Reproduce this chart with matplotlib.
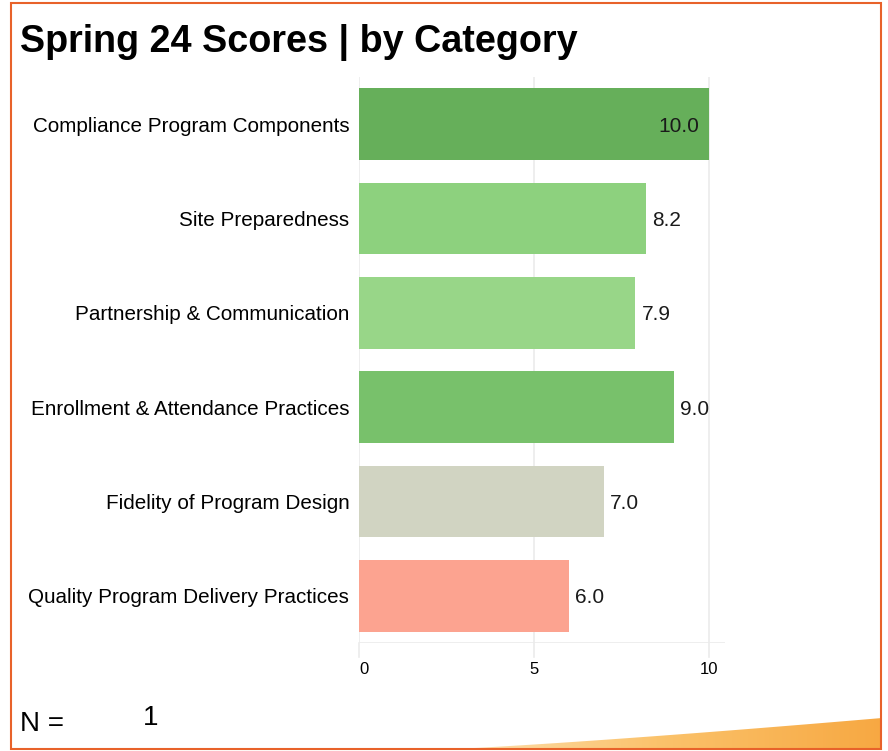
import numpy as np
import matplotlib.pyplot as plt
from matplotlib.patches import Rectangle, Polygon
from matplotlib.colors import LinearSegmentedColormap

plt.rcParams["font.family"] = ["Liberation Sans", "DejaVu Sans"]

# Data
categories = [
    "Compliance Program Components",
    "Site Preparedness",
    "Partnership & Communication",
    "Enrollment & Attendance Practices",
    "Fidelity of Program Design",
    "Quality Program Delivery Practices",
]
scores = [10.0, 8.2, 7.9, 9.0, 7.0, 6.0]
bar_colors = ["#66AF5A", "#8DD17E", "#98D688", "#78C16B", "#D1D4C2", "#FCA390"]
x_ticks = [0, 5, 10]
n_value = 1

W, H = 888, 751
fig = plt.figure(figsize=(W / 100, H / 100), dpi=100)

# Orange swoosh at the bottom right
sw_x = np.linspace(430, 882, 60)
sw_top = 750 - 32 * ((sw_x - 430) / 452) ** 1.2
verts = list(zip(sw_x / W, 1 - sw_top / H)) + [(882 / W, 1 - 750 / H), (430 / W, 1 - 750 / H)]
bg = fig.add_axes([0, 0, 1, 1], zorder=0)
bg.set_xlim(0, 1)
bg.set_ylim(0, 1)
bg.axis("off")
poly = Polygon(verts, closed=True, facecolor="none", edgecolor="none", transform=bg.transAxes)
bg.add_patch(poly)
grad = np.linspace(0, 1, 256).reshape(1, -1)
cmap = LinearSegmentedColormap.from_list("sw", ["#FDE3B8", "#FBC36C", "#F7A842"])
im = bg.imshow(grad, extent=[430 / W, 882 / W, 0, 1 - 716 / H], aspect="auto",
               cmap=cmap, transform=bg.transAxes, zorder=1)
im.set_clip_path(poly)

# Border
fig.patches.append(Rectangle((11 / W, 1 - 749 / H), 870 / W, 746 / H, transform=fig.transFigure,
                             fill=False, edgecolor="#E8622A", linewidth=1.5, zorder=5))

# Main chart
ax = fig.add_axes([359 / W, 1 - 643 / H, 366 / W, 566 / H], zorder=2)
ax.patch.set_alpha(0)
y = np.arange(len(categories))
ax.barh(y, scores, height=0.76, color=bar_colors, zorder=3)
ax.set_ylim(len(categories) - 0.5, -0.5)
ax.set_xlim(0, 10.46)
ax.set_yticks(y)
ax.set_yticklabels(categories, fontsize=14.9)
ax.set_xticks(x_ticks)
ax.set_xticklabels([str(t) for t in x_ticks], fontsize=12)
ax.get_xticklabels()[0].set_horizontalalignment("left")
ax.tick_params(axis="y", length=0, pad=7)
ax.tick_params(axis="x", length=0, pad=14)
for s in ax.spines.values():
    s.set_visible(False)
ax.grid(axis="x", color="#EBEBEB", linewidth=1.2, zorder=0)
ax.axhline(len(categories) - 0.5, color="#EBEBEB", linewidth=1.2, zorder=0)
for t in x_ticks:
    ax.plot([t, t], [len(categories) - 0.5, len(categories) - 0.35], color="#EBEBEB",
            linewidth=1.2, clip_on=False, zorder=0)

for yi, v in zip(y, scores):
    if v >= 10:
        ax.text(v - 0.28, yi + 0.02, f"{v:.1f}", ha="right", va="center", fontsize=15, color="#1a1a1a", zorder=4)
    else:
        ax.text(v + 0.18, yi + 0.02, f"{v:.1f}", ha="left", va="center", fontsize=15, color="#1a1a1a", zorder=4)

fig.text(20 / W, 1 - 52 / H, "Spring 24 Scores | by Category", fontsize=27.2, fontweight="bold",
         ha="left", va="baseline", zorder=6)
fig.text(20 / W, 1 - 731 / H, "N =", fontsize=20, ha="left", va="baseline", zorder=6)
fig.text(143 / W, 1 - 725 / H, str(n_value), fontsize=20, ha="left", va="baseline", zorder=6)

fig.savefig("out.png", dpi=100)
